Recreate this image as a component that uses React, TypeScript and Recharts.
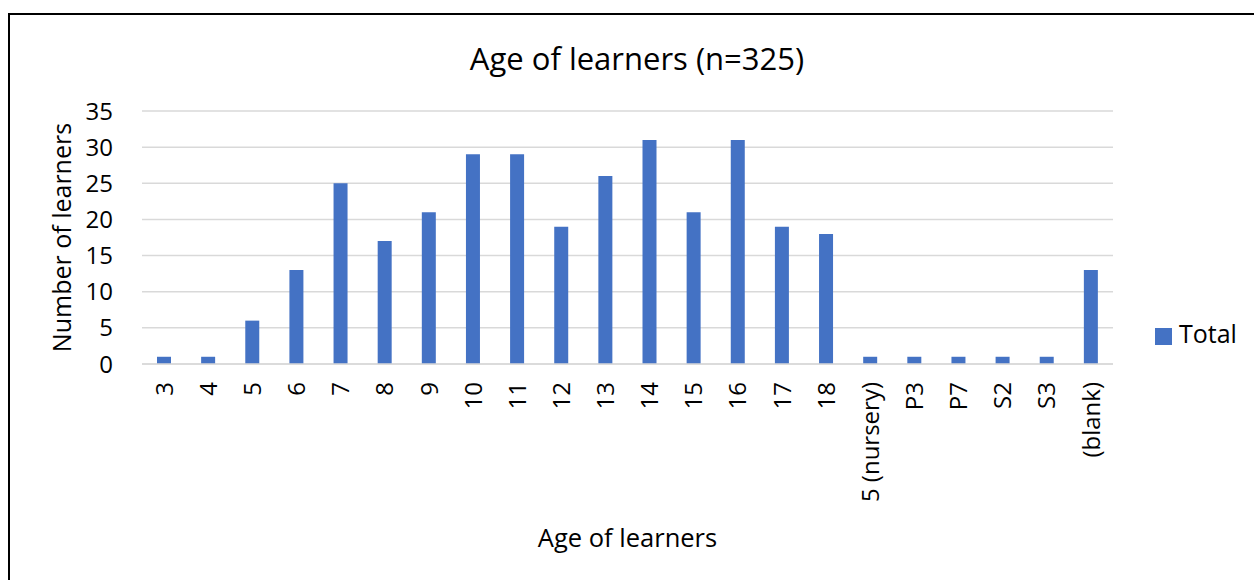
import { Bar, BarChart, CartesianGrid, Label, Legend, XAxis, YAxis } from 'recharts';

const ages = ['3', '4', '5', '6', '7', '8', '9', '10', '11', '12', '13', '14', '15', '16', '17', '18', '5 (nursery)', 'P3', 'P7', 'S2', 'S3', '(blank)'];
const totals = [1, 1, 6, 13, 25, 17, 21, 29, 29, 19, 26, 31, 21, 31, 19, 18, 1, 1, 1, 1, 1, 13];
const yTicks = [0, 5, 10, 15, 20, 25, 30, 35];

const chartData = ages.map((age, i) => ({ age, Total: totals[i] }));

const FONT = '"Open Sans", sans-serif';

const AgeTick = ({ x, y, payload }: any) => (
  <g transform={`translate(${x},${y + 16})`}>
    <text transform="rotate(-90)" textAnchor="end" dy="0.36em" fill="#000" fontSize={24} fontFamily={FONT}>
      {payload.value}
    </text>
  </g>
);

export default function App() {
  return (
    <div style={{ position: 'absolute', left: 0, top: 0, width: 1254, height: 580, overflow: 'hidden', background: '#fff', fontFamily: FONT }}>
      <div style={{ position: 'absolute', left: 8, top: 13, width: 1270, height: 620, border: '2px solid #000' }} />
      <div style={{ position: 'absolute', left: 0, width: 1274, top: 37, textAlign: 'center', fontSize: 31, color: '#000', lineHeight: '42px' }}>
        Age of learners (n=325)
      </div>
      <div style={{ position: 'absolute', left: 0, top: 0 }}>
        <BarChart width={1254} height={580} data={chartData} margin={{ top: 111, right: 141, bottom: 66, left: 40 }}>
          <CartesianGrid vertical={false} stroke="#d9d9d9" strokeWidth={1.5} />
          <XAxis
            dataKey="age"
            interval={0}
            height={150}
            tickLine={false}
            tickSize={0}
            axisLine={{ stroke: '#d9d9d9', strokeWidth: 1.5 }}
            tick={<AgeTick />}
          >
            <Label value="Age of learners" position="bottom" offset={15} fill="#000" fontSize={25.5} fontFamily={FONT} />
          </XAxis>
          <YAxis
            width={102}
            domain={[0, 35]}
            ticks={yTicks}
            tickLine={false}
            axisLine={false}
            tickSize={0}
            tickMargin={29}
            tick={{ fill: '#000', fontSize: 24, fontFamily: FONT }}
          >
            <Label
              value="Number of learners"
              angle={-90}
              position="insideLeft"
              offset={22}
              fill="#000"
              fontSize={25}
              fontFamily={FONT}
              style={{ textAnchor: 'middle' }}
            />
          </YAxis>
          <Legend
            layout="vertical"
            align="center"
            verticalAlign="middle"
            iconType="square"
            iconSize={17}
            wrapperStyle={{ left: 1155, top: 316, width: 100, fontSize: 25, fontFamily: FONT }}
            formatter={(value) => <span style={{ color: '#000', marginLeft: 3 }}>{value}</span>}
          />
          <Bar dataKey="Total" fill="#4472c4" barSize={14} isAnimationActive={false} />
        </BarChart>
      </div>
    </div>
  );
}
